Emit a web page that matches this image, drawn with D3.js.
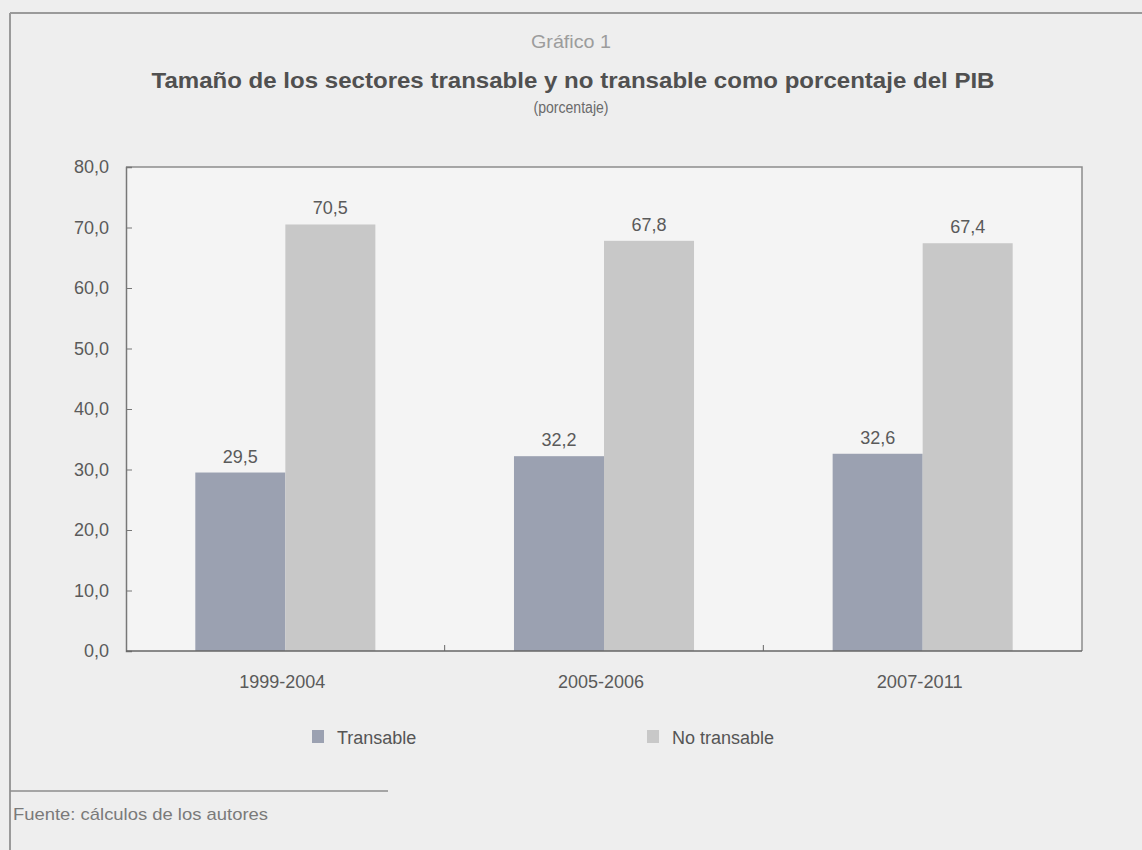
<!DOCTYPE html>
<html>
<head>
<meta charset="utf-8">
<script src="https://cdn.jsdelivr.net/npm/d3@7/dist/d3.min.js"></script>
<style>
  html, body { margin: 0; padding: 0; background: #eeeeee; }
  svg { display: block; }
  text { font-family: "Liberation Sans", Arial, sans-serif; }
</style>
</head>
<body>
<svg id="chart" width="1142" height="850"></svg>
<script>
// Periods on the x axis
const periods = ["1999-2004", "2005-2006", "2007-2011"];
// Share of GDP (%) for each sector
const transable = [29.5, 32.2, 32.6];
const noTransable = [70.5, 67.8, 67.4];
const seriesNames = ["Transable", "No transable"];
const yTicks = [0, 10, 20, 30, 40, 50, 60, 70, 80];

const colors = { "Transable": "#9ba1b1", "No transable": "#c8c8c8" };
const fmt = v => d3.format(".1f")(v).replace(".", ",");

const svg = d3.select("#chart");
const W = 1142, H = 850;
const plot = { left: 126, right: 1082, top: 167, bottom: 651 };

// Outer page frame (top rule and left rule)
svg.append("line").attr("x1", 10).attr("x2", W).attr("y1", 13).attr("y2", 13)
  .attr("stroke", "#9a9a9a").attr("stroke-width", 2);
svg.append("line").attr("x1", 10).attr("x2", 10).attr("y1", 13).attr("y2", H)
  .attr("stroke", "#9a9a9a").attr("stroke-width", 2);

// Headings
svg.append("text").attr("x", 571).attr("y", 48).attr("text-anchor", "middle")
  .attr("font-size", 19).attr("fill", "#9c9c9c")
  .attr("textLength", 80).attr("lengthAdjust", "spacingAndGlyphs")
  .text("Gráfico 1");
svg.append("text").attr("x", 573).attr("y", 88).attr("text-anchor", "middle")
  .attr("font-size", 22).attr("font-weight", "bold").attr("fill", "#505050")
  .attr("textLength", 843).attr("lengthAdjust", "spacingAndGlyphs")
  .text("Tamaño de los sectores transable y no transable como porcentaje del PIB");
svg.append("text").attr("x", 571).attr("y", 113).attr("text-anchor", "middle")
  .attr("font-size", 16).attr("fill", "#6a6a6a")
  .attr("textLength", 75).attr("lengthAdjust", "spacingAndGlyphs")
  .text("(porcentaje)");

// Scales
const x0 = d3.scaleBand().domain(periods).range([plot.left, plot.right])
  .paddingInner(0.435).paddingOuter(0.2175);
const x1 = d3.scaleBand().domain(seriesNames).range([0, x0.bandwidth()]);
const y = d3.scaleLinear().domain([0, 80]).range([plot.bottom, plot.top]);

// Plot background
svg.append("rect").attr("x", plot.left).attr("y", plot.top)
  .attr("width", plot.right - plot.left).attr("height", plot.bottom - plot.top)
  .attr("fill", "#f4f4f4");

// Bars
const rows = periods.map((p, i) => ({ period: p, values: [
  { name: "Transable", value: transable[i] },
  { name: "No transable", value: noTransable[i] }
]}));

const groups = svg.append("g").selectAll("g").data(rows).join("g")
  .attr("transform", d => `translate(${x0(d.period)},0)`);

groups.selectAll("rect").data(d => d.values).join("rect")
  .attr("x", d => x1(d.name))
  .attr("y", d => y(d.value))
  .attr("width", x1.bandwidth())
  .attr("height", d => y(0) - y(d.value))
  .attr("fill", d => colors[d.name]);

groups.selectAll("text.val").data(d => d.values).join("text")
  .attr("class", "val")
  .attr("x", d => x1(d.name) + x1.bandwidth() / 2)
  .attr("y", d => y(d.value) - 10)
  .attr("text-anchor", "middle")
  .attr("font-size", 18).attr("fill", "#5a5a5a")
  .text(d => fmt(d.value));

// Plot frame (top and right)
svg.append("path")
  .attr("d", `M${plot.left},${plot.top}H${plot.right}V${plot.bottom}`)
  .attr("fill", "none").attr("stroke", "#8c8c8c").attr("stroke-width", 1.5);

// Y axis with inward ticks
const yAxis = d3.axisLeft(y).tickValues(yTicks).tickSize(-6).tickPadding(17)
  .tickFormat(fmt);
const gy = svg.append("g").attr("transform", `translate(${plot.left},0)`).call(yAxis);
gy.select(".domain").attr("stroke", "#777").attr("stroke-width", 1.5);
gy.selectAll(".tick line").attr("stroke", "#777");
gy.selectAll(".tick text").attr("font-size", 18).attr("fill", "#5a5a5a")
  .style("font-family", "'Liberation Sans', Arial, sans-serif");
gy.selectAll(".tick").filter(d => d === 0 || d === 80).select("line").remove();

// X axis: separators between periods, labels centered under each group
const gx = svg.append("g").attr("transform", `translate(0,${plot.bottom})`);
gx.append("line").attr("x1", plot.left).attr("x2", plot.right)
  .attr("stroke", "#666").attr("stroke-width", 1.5);
const separators = periods.slice(1).map(p => x0(p) - x0.step() * x0.paddingInner() / 2);
gx.selectAll("line.sep").data(separators).join("line").attr("class", "sep")
  .attr("x1", d => d).attr("x2", d => d).attr("y1", 0).attr("y2", -6)
  .attr("stroke", "#666");
gx.selectAll("text").data(periods).join("text")
  .attr("x", d => x0(d) + x0.bandwidth() / 2 - 3)
  .attr("y", 37)
  .attr("text-anchor", "middle")
  .attr("font-size", 19).attr("fill", "#5a5a5a")
  .attr("textLength", 86).attr("lengthAdjust", "spacingAndGlyphs")
  .text(d => d);

// Legend
const legendX = { "Transable": 312, "No transable": 647 };
const lg = svg.append("g").selectAll("g").data(seriesNames).join("g")
  .attr("transform", d => `translate(${legendX[d]},730)`);
lg.append("rect").attr("width", 12).attr("height", 13).attr("fill", d => colors[d]);
lg.append("text").attr("x", 25).attr("y", 14).attr("font-size", 18)
  .attr("fill", "#555").text(d => d);

// Source note
svg.append("line").attr("x1", 10).attr("x2", 388).attr("y1", 791).attr("y2", 791)
  .attr("stroke", "#8c8c8c").attr("stroke-width", 1.5);
svg.append("text").attr("x", 13).attr("y", 820).attr("font-size", 17)
  .attr("fill", "#7a7a7a")
  .attr("textLength", 255).attr("lengthAdjust", "spacingAndGlyphs")
  .text("Fuente: cálculos de los autores");
</script>
</body>
</html>
